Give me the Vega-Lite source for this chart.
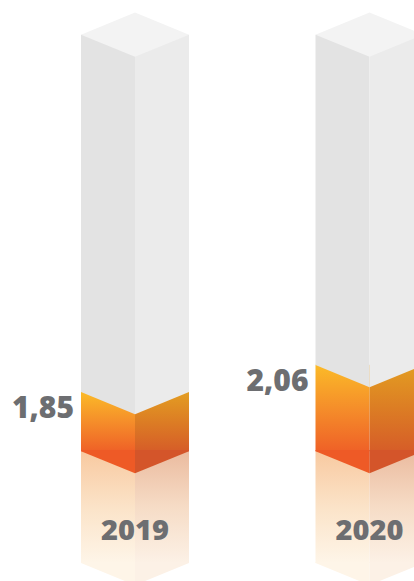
{
  "$schema": "https://vega.github.io/schema/vega-lite/v6.json",
  "width": 414,
  "height": 581,
  "autosize": {"type": "none"},
  "padding": 0,
  "background": "#ffffff",
  "config": {
    "view": {"stroke": null},
    "locale": {"number": {"decimal": ",", "thousands": ".", "grouping": [3], "currency": ["", " €"]}}
  },
  "data": {"values": [
    {"year": "2019", "value": 1.85},
    {"year": "2020", "value": 2.06}
  ]},
  "encoding": {
    "x": {"field": "year", "type": "nominal", "axis": null,
      "scale": {"domain": ["2019", "2020"], "range": [0, 504.5], "paddingInner": 0.5394, "paddingOuter": 0.3454}}
  },
  "layer": [
    {
      "mark": {"type": "bar", "width": {"band": 0.5}, "xOffset": -27, "color": {"gradient": "linear", "x1": 0, "y1": 0, "x2": 0, "y2": 1, "stops": [{"offset": 0, "color": "#f8c9a0"}, {"offset": 0.5, "color": "#fbe3c8"}, {"offset": 1, "color": "#fef5e8"}]}},
      "encoding": {
        "y": {"datum": 1.39, "type": "quantitative", "axis": null, "scale": {"domain": [0.38, 4.9], "zero": false, "nice": false}},
        "y2": {"datum": 0.52}
      }
    },
    {
      "mark": {"type": "bar", "width": {"band": 0.5}, "xOffset": 27, "color": {"gradient": "linear", "x1": 0, "y1": 0, "x2": 0, "y2": 1, "stops": [{"offset": 0, "color": "#ebbb9f"}, {"offset": 0.5, "color": "#f6dcc6"}, {"offset": 1, "color": "#fcf1e6"}]}},
      "encoding": {
        "y": {"datum": 1.39, "type": "quantitative"},
        "y2": {"datum": 0.52}
      }
    },
    {
      "mark": {"type": "point", "filled": true, "opacity": 1, "strokeWidth": 0, "size": 11664, "shape": "M0,-0.02 L-1,-0.02 L-1,0 L0,0.41 Z", "color": "#fef5e8"},
      "encoding": {"y": {"datum": 0.52, "type": "quantitative"}}
    },
    {
      "mark": {"type": "point", "filled": true, "opacity": 1, "strokeWidth": 0, "size": 11664, "shape": "M0,-0.02 L1,-0.02 L1,0 L0,0.41 Z", "color": "#fcf1e6"},
      "encoding": {"y": {"datum": 0.52, "type": "quantitative"}}
    },
    {
      "mark": {"type": "bar", "width": {"band": 0.5}, "xOffset": -27, "color": {"gradient": "linear", "x1": 0, "y1": 0, "x2": 0, "y2": 1, "stops": [{"offset": 0, "color": "#fbba28"}, {"offset": 0.5, "color": "#f58e2a"}, {"offset": 1, "color": "#ef6127"}]}},
      "encoding": {
        "y": {"field": "value", "type": "quantitative"},
        "y2": {"datum": 1.39}
      }
    },
    {
      "mark": {"type": "bar", "width": {"band": 0.5}, "xOffset": 27, "color": {"gradient": "linear", "x1": 0, "y1": 0, "x2": 0, "y2": 1, "stops": [{"offset": 0, "color": "#e39d22"}, {"offset": 0.5, "color": "#dc7d24"}, {"offset": 1, "color": "#d65d28"}]}},
      "encoding": {
        "y": {"field": "value", "type": "quantitative"},
        "y2": {"datum": 1.39}
      }
    },
    {
      "mark": {"type": "point", "filled": true, "opacity": 1, "strokeWidth": 0, "size": 11664, "shape": "M0,-0.02 L-1,-0.02 L-1,0 L0,0.41 Z", "color": "#ee5a26"},
      "encoding": {"y": {"datum": 1.39, "type": "quantitative"}}
    },
    {
      "mark": {"type": "point", "filled": true, "opacity": 1, "strokeWidth": 0, "size": 11664, "shape": "M0,-0.02 L1,-0.02 L1,0 L0,0.41 Z", "color": "#d4552a"},
      "encoding": {"y": {"datum": 1.39, "type": "quantitative"}}
    },
    {
      "mark": {"type": "bar", "width": {"band": 0.5}, "xOffset": -27, "color": "#e3e3e3"},
      "encoding": {
        "y": {"field": "value", "type": "quantitative"},
        "y2": {"datum": 4.63}
      }
    },
    {
      "mark": {"type": "bar", "width": {"band": 0.5}, "xOffset": 27, "color": "#ebebeb"},
      "encoding": {
        "y": {"field": "value", "type": "quantitative"},
        "y2": {"datum": 4.63}
      }
    },
    {
      "mark": {"type": "point", "filled": true, "opacity": 1, "strokeWidth": 0, "size": 11664, "shape": "M0,-0.02 L-1,-0.02 L-1,0 L0,0.41 Z", "color": "#e3e3e3"},
      "encoding": {"y": {"field": "value", "type": "quantitative"}}
    },
    {
      "mark": {"type": "point", "filled": true, "opacity": 1, "strokeWidth": 0, "size": 11664, "shape": "M0,-0.02 L1,-0.02 L1,0 L0,0.41 Z", "color": "#ebebeb"},
      "encoding": {"y": {"field": "value", "type": "quantitative"}}
    },
    {
      "mark": {"type": "point", "filled": true, "opacity": 1, "strokeWidth": 0, "size": 11664, "shape": "M-1,0 L0,-0.41 L1,0 L0,0.41 Z", "color": "#f3f3f3"},
      "encoding": {"y": {"datum": 4.63, "type": "quantitative"}}
    },
    {
      "mark": {"type": "text", "align": "right", "baseline": "middle", "dx": -61, "dy": 17, "font": "Open Sans", "fontWeight": 800, "fontSize": 30, "color": "#6d6e71"},
      "encoding": {
        "y": {"field": "value", "type": "quantitative"},
        "text": {"field": "value", "type": "quantitative", "format": ".2f"}
      }
    },
    {
      "mark": {"type": "text", "align": "center", "baseline": "alphabetic", "font": "Open Sans", "fontWeight": 800, "fontSize": 29, "color": "#6d6e71"},
      "encoding": {
        "y": {"datum": 0.7, "type": "quantitative"},
        "text": {"field": "year", "type": "nominal"}
      }
    }
  ]
}
